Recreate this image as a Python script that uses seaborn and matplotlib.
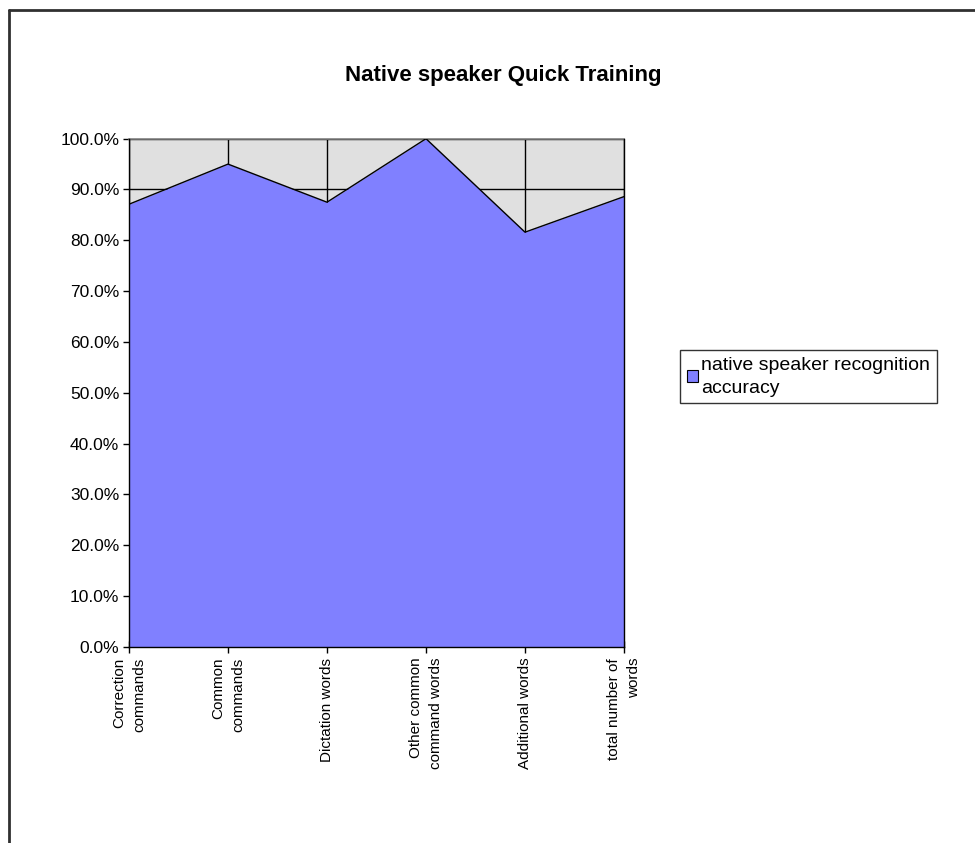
import matplotlib
matplotlib.use("Agg")
import matplotlib.pyplot as plt
import seaborn as sns
import pandas as pd
from matplotlib.patches import Patch
from matplotlib.lines import Line2D

# --- data ---
categories = [
    "Correction\ncommands",
    "Common\ncommands",
    "Dictation words",
    "Other common\ncommand words",
    "Additional words",
    "total number of\nwords",
]
accuracy = [0.871, 0.950, 0.875, 1.000, 0.816, 0.886]
series_name = "native speaker recognition\naccuracy"
y_ticks = [i / 10 for i in range(11)]
y_labels = [f"{v * 100:.1f}%" for v in y_ticks]

df = pd.DataFrame({"pos": range(len(categories)), "accuracy": accuracy})

sns.set_style("white")
plt.rcParams["font.family"] = ["Liberation Sans", "DejaVu Sans"]
plt.rcParams["text.color"] = "black"
plt.rcParams["xtick.color"] = "black"
plt.rcParams["ytick.color"] = "black"

fig = plt.figure(figsize=(9.75, 8.43), dpi=100)
ax = fig.add_axes([129 / 975, 1 - 646.7 / 843, (624 - 129) / 975, (646.7 - 138.7) / 843])
ax.set_facecolor("#E0E0E0")

# area + outline
ax.fill_between(df["pos"], df["accuracy"], color="#8080FF", zorder=2, linewidth=0)
sns.lineplot(data=df, x="pos", y="accuracy", ax=ax, color="black", linewidth=1, zorder=3)

ax.set_xlim(0, len(categories) - 1)
ax.set_ylim(0, 1)
ax.set_xticks(df["pos"])
ax.set_xticklabels(categories, rotation=90, ha="center", va="top",
                   multialignment="right", fontsize=11, linespacing=1.55)
ax.set_yticks(y_ticks)
ax.set_yticklabels(y_labels, fontsize=12.5)
ax.set_xlabel("")
ax.set_ylabel("")

# gridlines behind the area
ax.set_axisbelow(True)
ax.grid(True, color="black", linewidth=1)
ax.tick_params(axis="x", direction="inout", length=8, width=1, pad=4, bottom=True)
ax.tick_params(axis="y", direction="out", length=4, width=1, pad=3, left=True)

for side in ["left", "bottom", "right"]:
    ax.spines[side].set_color("black")
    ax.spines[side].set_linewidth(1)
    ax.spines[side].set_zorder(4)
ax.spines["top"].set_color("#808080")
ax.spines["top"].set_linewidth(1.2)

fig.text(503 / 975, 1 - 76 / 843, "Native speaker Quick Training",
         ha="center", va="center", fontsize=16, fontweight="bold")

handle = Patch(facecolor="#8080FF", edgecolor="black", linewidth=0.8)
leg = fig.legend([handle], [series_name], loc="upper left",
                 bbox_to_anchor=(680 / 975, 1 - 350 / 843),
                 frameon=True, fancybox=False, fontsize=14,
                 handlelength=0.55, handleheight=0.55, handletextpad=0.2,
                 borderpad=0.35, borderaxespad=0)
leg.get_frame().set_edgecolor("black")
leg.get_frame().set_linewidth(1)
for t in leg.get_texts():
    t.set_linespacing(1.45)

# outer chart border (only left and top visible in the reference crop)
fig.add_artist(Line2D([9 / 975, 9 / 975], [0, 1 - 10 / 843], color="#303030", linewidth=2))
fig.add_artist(Line2D([9 / 975, 1], [1 - 10 / 843, 1 - 10 / 843], color="#303030", linewidth=2))

fig.savefig("out.png", dpi=100)
